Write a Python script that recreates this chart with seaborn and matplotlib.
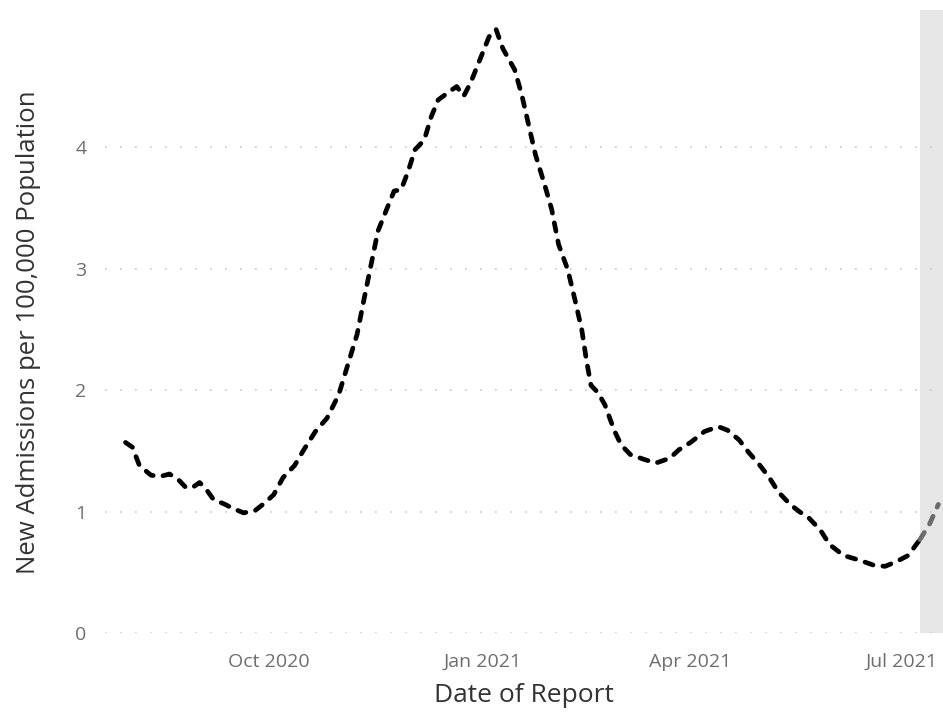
import pandas as pd
import matplotlib.pyplot as plt
import seaborn as sns

# daily values (7-day avg new admissions per 100k)
dates = [
    "2020-07-31", "2020-08-03", "2020-08-06", "2020-08-11", "2020-08-15", "2020-08-19",
    "2020-08-23", "2020-08-26", "2020-08-29", "2020-09-01", "2020-09-04", "2020-09-07",
    "2020-09-12", "2020-09-15", "2020-09-20", "2020-09-25", "2020-09-29", "2020-10-03",
    "2020-10-07", "2020-10-12", "2020-10-16", "2020-10-21", "2020-10-26", "2020-10-31",
    "2020-11-04", "2020-11-08", "2020-11-11", "2020-11-14", "2020-11-17", "2020-11-21",
    "2020-11-24", "2020-11-27", "2020-11-30", "2020-12-03", "2020-12-07", "2020-12-10",
    "2020-12-13", "2020-12-18", "2020-12-21", "2020-12-24", "2020-12-27", "2020-12-31",
    "2021-01-04", "2021-01-07", "2021-01-10", "2021-01-15", "2021-01-18", "2021-01-21",
    "2021-01-24", "2021-01-28", "2021-01-31", "2021-02-03", "2021-02-07", "2021-02-10",
    "2021-02-13", "2021-02-15", "2021-02-17", "2021-02-20", "2021-02-23", "2021-02-27",
    "2021-03-02", "2021-03-06", "2021-03-12", "2021-03-17", "2021-03-23", "2021-03-27",
    "2021-04-01", "2021-04-07", "2021-04-13", "2021-04-17", "2021-04-22", "2021-04-26",
    "2021-05-01", "2021-05-05", "2021-05-09", "2021-05-14", "2021-05-18", "2021-05-22",
    "2021-05-27", "2021-05-31", "2021-06-06", "2021-06-13", "2021-06-19", "2021-06-24",
    "2021-06-29", "2021-07-04", "2021-07-09", "2021-07-13", "2021-07-17",
]
admissions = [
    1.57, 1.53, 1.38, 1.30, 1.29, 1.31,
    1.26, 1.20, 1.20, 1.24, 1.18, 1.10,
    1.06, 1.03, 0.99, 1.01, 1.07, 1.14,
    1.28, 1.38, 1.51, 1.66, 1.77, 1.96,
    2.21, 2.46, 2.75, 3.03, 3.31, 3.50,
    3.64, 3.65, 3.80, 3.98, 4.06, 4.25,
    4.39, 4.46, 4.50, 4.42, 4.53, 4.72,
    4.91, 4.97, 4.81, 4.64, 4.44, 4.19,
    3.94, 3.69, 3.49, 3.20, 2.99, 2.75,
    2.50, 2.25, 2.04, 1.98, 1.88, 1.67,
    1.55, 1.47, 1.43, 1.40, 1.44, 1.51,
    1.57, 1.66, 1.70, 1.67, 1.59, 1.49,
    1.38, 1.28, 1.16, 1.06, 1.00, 0.95,
    0.85, 0.73, 0.64, 0.60, 0.56, 0.55,
    0.59, 0.64, 0.77, 0.89, 1.06,
]
incomplete_start = "2021-07-09"   # shaded "data may be incomplete" window
x_range = ["2020-07-22", "2021-07-19"]
tick_dates = ["2020-10-01", "2021-01-01", "2021-04-01", "2021-07-01"]
tick_labels = ["Oct 2020", "Jan 2021", "Apr 2021", "Jul 2021"]
y_ticks = [0, 1, 2, 3, 4]

df = pd.DataFrame({"date": pd.to_datetime(dates), "value": admissions})
cut = pd.Timestamp(incomplete_start)
complete = df[df["date"] <= cut]
recent = df[df["date"] >= cut]

sns.set_style("white")
plt.rcParams["font.family"] = ["Open Sans", "DejaVu Sans"]

fig = plt.figure(figsize=(9.43, 7.13), dpi=100)
ax = fig.add_axes([0.111, 0.112, 0.889, 0.874])

ax.axvspan(cut, pd.Timestamp(x_range[1]), color="#e6e6e6", zorder=0, lw=0)
for y in y_ticks:
    ax.axhline(y, color="#c8c8c8", lw=1.2, linestyle=(0, (1, 8)), zorder=1)

line_kw = dict(x="date", y="value", ax=ax, linewidth=3.4, dashes=False)
sns.lineplot(data=complete, color="black", **line_kw)
sns.lineplot(data=recent, color="#6b6b6b", **line_kw)
for ln in ax.lines[-2:]:
    ln.set_linestyle((0, (1.8, 2.1)))
    ln.set_dash_capstyle("round")
    ln.set_zorder(3)

ax.set_xlim(pd.Timestamp(x_range[0]), pd.Timestamp(x_range[1]))
ax.set_ylim(0, 5.13)
ax.set_xticks(pd.to_datetime(tick_dates))
ax.set_xticklabels(tick_labels)
ax.set_yticks(y_ticks)
ax.tick_params(axis="both", length=0, colors="#6e6e6e", labelsize=14)
ax.tick_params(axis="x", pad=14)
ax.tick_params(axis="y", pad=13)
for s in ax.spines.values():
    s.set_visible(False)

ax.set_xlabel("Date of Report", fontsize=19, color="#333333", labelpad=9)
ax.set_ylabel("New Admissions per 100,000 Population", fontsize=18.5, color="#333333")
ax.yaxis.set_label_coords(-0.076, 0.483)

fig.savefig("out.png", dpi=100)
